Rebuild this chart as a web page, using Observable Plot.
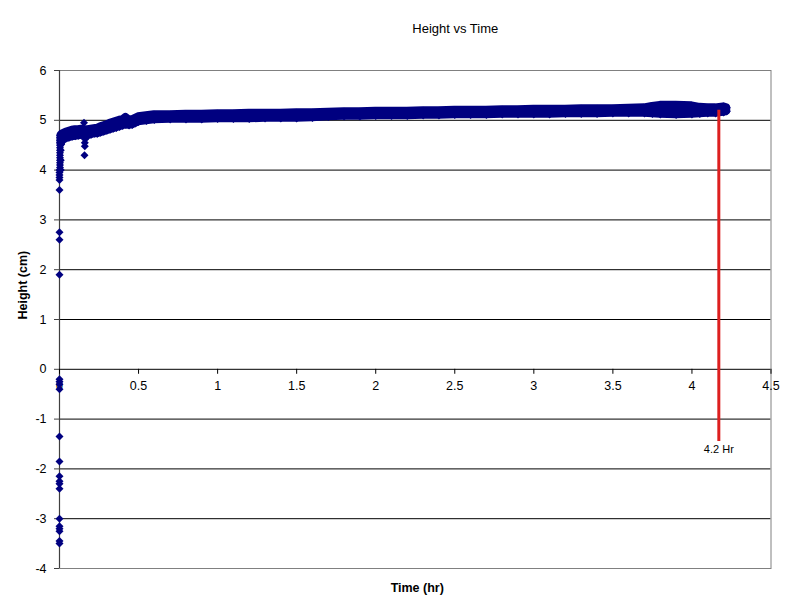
<!DOCTYPE html>
<html>
<head>
<meta charset="utf-8">
<script src="https://cdn.jsdelivr.net/npm/d3@7"></script>
<script src="https://cdn.jsdelivr.net/npm/@observablehq/plot@0.6"></script>
<style>
  html, body { margin: 0; padding: 0; background: #ffffff; }
  #chart svg { display: block; }
</style>
</head>
<body>
<div id="chart"></div>
<script>
// ---- Data ----
const chartTitle = "Height vs Time";
const xTitle = "Time (hr)";
const yTitle = "Height (cm)";

const xTicks = [0, 0.5, 1, 1.5, 2, 2.5, 3, 3.5, 4, 4.5];
const yTicks = [-4, -3, -2, -1, 0, 1, 2, 3, 4, 5, 6];
const gridValues = [-3, -2, -1, 0, 1, 2, 3, 4, 5];

// Dense measurement band: time (hr), lower and upper edge of the point cloud (cm)
const bandTime = [0.01, 0.02, 0.04, 0.06, 0.08, 0.10, 0.12, 0.14, 0.16, 0.18, 0.20, 0.22, 0.24, 0.26, 0.28,
  0.30, 0.32, 0.34, 0.36, 0.38, 0.40, 0.42, 0.44, 0.46, 0.48, 0.50, 0.55, 0.60, 0.70, 0.80, 0.90,
  1.00, 1.10, 1.20, 1.30, 1.40, 1.50, 1.60, 1.70, 1.80, 1.90, 2.00, 2.10, 2.20, 2.30, 2.40, 2.50,
  2.60, 2.70, 2.80, 2.90, 3.00, 3.10, 3.20, 3.30, 3.40, 3.50, 3.60, 3.70, 3.75, 3.80, 3.90, 4.00,
  4.05, 4.10, 4.15, 4.20, 4.22];
const bandLow = [4.52, 4.59, 4.63, 4.65, 4.67, 4.68, 4.69, 4.70, 4.71, 4.69, 4.71, 4.73, 4.73, 4.75, 4.77,
  4.79, 4.81, 4.83, 4.85, 4.87, 4.89, 4.91, 4.90, 4.91, 4.94, 4.97, 4.99, 5.01, 5.02, 5.02, 5.02,
  5.03, 5.03, 5.03, 5.04, 5.04, 5.04, 5.05, 5.07, 5.08, 5.08, 5.09, 5.09, 5.09, 5.10, 5.10, 5.11,
  5.11, 5.11, 5.12, 5.12, 5.12, 5.12, 5.13, 5.13, 5.13, 5.14, 5.14, 5.14, 5.13, 5.12, 5.11, 5.12,
  5.13, 5.14, 5.14, 5.16, 5.18];
const bandHigh = [4.70, 4.73, 4.76, 4.78, 4.80, 4.81, 4.81, 4.82, 4.81, 4.81, 4.82, 4.83, 4.84, 4.87, 4.89,
  4.91, 4.94, 4.96, 4.98, 5.00, 5.01, 5.06, 5.01, 5.01, 5.04, 5.07, 5.09, 5.11, 5.11, 5.12, 5.12,
  5.13, 5.13, 5.14, 5.14, 5.14, 5.15, 5.15, 5.16, 5.17, 5.17, 5.18, 5.18, 5.18, 5.19, 5.19, 5.20,
  5.20, 5.20, 5.21, 5.21, 5.22, 5.22, 5.22, 5.23, 5.23, 5.23, 5.24, 5.25, 5.28, 5.30, 5.30, 5.29,
  5.26, 5.25, 5.25, 5.27, 5.25];

// Scattered individual points (start-up transient and the dip near 0.16 hr)
const scatterTime = [
  0, 0, 0, 0, 0, 0, 0, 0, 0, 0, 0, 0, 0, 0, 0, 0,
  0, 0, 0, 0, 0, 0, 0, 0, 0,
  0.003, 0.003, 0.003, 0.003, 0.003, 0.003, 0.003, 0.003, 0.003, 0.003, 0.003, 0.003, 0.003, 0.003,
  0.008, 0.008, 0.008, 0.008, 0.008,
  0.155, 0.158, 0.160, 0.160, 0.162, 0.160];
const scatterHeight = [
  -3.50, -3.45, -3.25, -3.20, -3.15, -3.00, -2.40, -2.30, -2.25, -2.15, -1.85, -1.35, -0.40, -0.30, -0.25, -0.20,
  1.90, 2.60, 2.75, 3.60, 3.80, 3.85, 3.90, 3.95, 4.00,
  4.05, 4.10, 4.15, 4.20, 4.25, 4.30, 4.35, 4.40, 4.45, 4.50, 4.55, 4.60, 4.65, 4.70,
  4.00, 4.20, 4.40, 4.60, 4.70,
  4.95, 4.30, 4.48, 4.55, 4.62, 4.70];

// End-of-run marker
const markerTime = 4.17;
const markerTop = 5.2;
const markerBottom = -1.45;
const markerLabel = "4.2 Hr";
const markerLabelY = -1.6;

// ---- Build tables ----
const band = bandTime.map((t, i) => ({t, lo: bandLow[i], hi: bandHigh[i]}));
const bandEdges = band.flatMap(d => [{t: d.t, h: d.lo}, {t: d.t, h: d.hi}]);
const scatter = scatterTime.map((t, i) => ({t, h: scatterHeight[i]}));

const navy = "#000080";
const W = 793, H = 615;

const chart = Plot.plot({
  width: W,
  height: H,
  marginLeft: 59,
  marginRight: 22.5,
  marginTop: 70,
  marginBottom: 47,
  style: {fontFamily: "Arial, 'Liberation Sans', sans-serif", fontSize: "12px", background: "#ffffff", color: "#000"},
  x: {domain: [0, 4.5], axis: null},
  y: {domain: [-4, 6], axis: null},
  marks: [
    // horizontal gridlines
    Plot.ruleY(gridValues, {stroke: "#000", strokeWidth: 1}),
    // plot border
    Plot.frame({stroke: "#808080", strokeWidth: 1}),
    // vertical axis line
    Plot.ruleX([0], {stroke: "#404040", strokeWidth: 1.2}),
    // y ticks and labels
    Plot.axisY(yTicks, {ticks: yTicks, tickSize: 5, tickPadding: 8, tickFormat: d => String(d), fontSize: 12.5, stroke: "#404040", label: null}),
    // x ticks on the zero line, pointing down
    Plot.ruleX(xTicks, {x: d => d, y1: 0, y2: -0.1, stroke: "#000"}),
    Plot.text(xTicks, {x: d => d, y: 0, dy: 17, text: d => String(d), fontSize: 12.5, fill: "#000"}),
    // measurement band
    Plot.areaY(band, {x: "t", y1: "lo", y2: "hi", fill: navy, stroke: navy, strokeWidth: 8, strokeLinejoin: "round"}),
    Plot.dot(bandEdges, {x: "t", y: "h", symbol: "diamond2", r: 3.7, fill: navy, stroke: "none"}),
    Plot.dot(scatter, {x: "t", y: "h", symbol: "diamond2", r: 3.6, fill: navy, stroke: "none"}),
    // red end marker
    Plot.ruleX([markerTime], {x: d => d, y1: markerBottom, y2: markerTop, stroke: "#dd1f1f", strokeWidth: 3}),
    Plot.text([markerLabel], {x: markerTime, y: markerLabelY, text: d => d, fontSize: 11, fill: "#000"}),
    // titles
    Plot.text([chartTitle], {frameAnchor: "top", dx: 40, dy: -47, text: d => d, fontSize: 13, fill: "#000"}),
    Plot.text([xTitle], {frameAnchor: "bottom", dx: 2, dy: 23, text: d => d, fontSize: 12.5, fontWeight: "bold", fill: "#000"}),
    Plot.text([yTitle], {frameAnchor: "left", dx: -37, text: d => d, rotate: -90, fontSize: 12.5, fontWeight: "bold", fill: "#000"})
  ]
});

document.getElementById("chart").appendChild(chart);
</script>
</body>
</html>
